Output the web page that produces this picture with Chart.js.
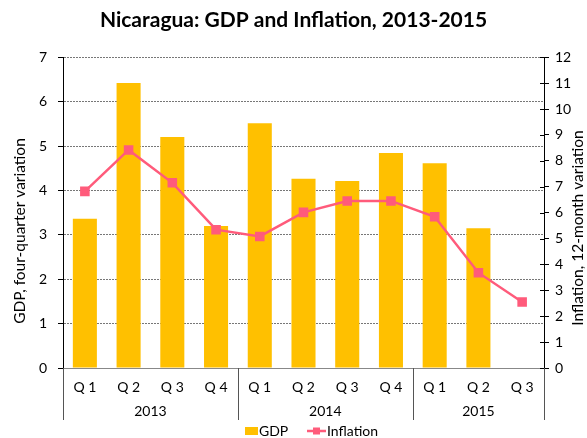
<!DOCTYPE html>
<html>
<head>
<meta charset="utf-8">
<script src="https://cdn.jsdelivr.net/npm/chart.js@4"></script>
<style>
  body { margin: 0; background: #fff; }
  #wrap { width: 587px; height: 438px; }
</style>
</head>
<body>
<div id="wrap"><canvas id="myChart"></canvas></div>
<script>
// data
const quarters = ["Q 1", "Q 2", "Q 3", "Q 4", "Q 1", "Q 2", "Q 3", "Q 4", "Q 1", "Q 2", "Q 3"];
const years = ["2013", "2014", "2015"];
const yearSpans = [4, 4, 3];
const gdp = [3.36, 6.42, 5.2, 3.2, 5.51, 4.26, 4.21, 4.84, 4.61, 3.15, null];
const inflation = [6.82, 8.42, 7.15, 5.34, 5.08, 6.01, 6.45, 6.45, 5.84, 3.68, 2.55];
const gdpTicks = [0, 7];
const inflTicks = [0, 12];

const FONT = "Lato, 'Open Sans', sans-serif";
const BAR = "#FFC000";
const LINE = "#FF5B7B";

// year groups, axis titles, legend
const extras = {
  id: "extras",
  afterDraw(chart) {
    const ctx = chart.ctx;
    const x = chart.scales.x;
    const y1 = chart.scales.y1;
    const area = chart.chartArea;
    ctx.save();

    // separators + year labels
    ctx.strokeStyle = "#555";
    ctx.lineWidth = 1;
    let start = 0;
    const edges = [x.left];
    yearSpans.forEach((n) => {
      const end = start + n;
      const right = end >= quarters.length ? x.right
        : (x.getPixelForValue(end - 1) + x.getPixelForValue(end)) / 2;
      edges.push(right);
      start = end;
    });
    edges.forEach((px) => {
      const xx = Math.round(px) + 0.5;
      ctx.beginPath();
      ctx.moveTo(xx, area.bottom);
      ctx.lineTo(xx, 420);
      ctx.stroke();
    });
    ctx.fillStyle = "#000";
    ctx.font = "14px " + FONT;
    ctx.textAlign = "center";
    ctx.textBaseline = "middle";
    years.forEach((yr, i) => {
      ctx.fillText(yr, (edges[i] + edges[i + 1]) / 2, 411);
    });

    // right axis ticks cross the axis line
    ctx.strokeStyle = "#000";
    y1.ticks.forEach((t) => {
      const yy = Math.round(y1.getPixelForValue(t.value)) + 0.5;
      ctx.beginPath();
      ctx.moveTo(area.right - 4, yy);
      ctx.lineTo(area.right, yy);
      ctx.stroke();
    });

    // axis titles
    ctx.font = "15.5px " + FONT;
    ctx.fillStyle = "#000";
    ctx.save();
    ctx.translate(20, 231);
    ctx.rotate(-Math.PI / 2);
    ctx.fillText("GDP, four-quarter variation", 0, 0);
    ctx.restore();
    ctx.save();
    ctx.translate(578, 228);
    ctx.rotate(-Math.PI / 2);
    ctx.fillText("Inflation, 12-month variation", 0, 0);
    ctx.restore();

    // legend
    ctx.fillStyle = BAR;
    ctx.fillRect(245, 427, 13, 8);
    ctx.fillStyle = "#000";
    ctx.textAlign = "left";
    ctx.font = "14px " + FONT;
    ctx.fillText("GDP", 259, 431);
    ctx.strokeStyle = LINE;
    ctx.lineWidth = 2.5;
    ctx.beginPath();
    ctx.moveTo(307, 431);
    ctx.lineTo(326, 431);
    ctx.stroke();
    ctx.fillStyle = LINE;
    ctx.fillRect(313, 427.5, 7, 7);
    ctx.fillStyle = "#000";
    ctx.fillText("Inflation", 327, 431);
    ctx.restore();
  },
};

new Chart(document.getElementById("myChart"), {
  data: {
    labels: quarters,
    datasets: [
      {
        type: "line",
        label: "Inflation",
        data: inflation,
        yAxisID: "y1",
        borderColor: LINE,
        backgroundColor: LINE,
        borderWidth: 2.5,
        pointStyle: "rect",
        pointRadius: 5,
        tension: 0,
        order: 0,
      },
      {
        type: "bar",
        label: "GDP",
        data: gdp,
        yAxisID: "y",
        backgroundColor: BAR,
        barPercentage: 0.55,
        categoryPercentage: 1,
        order: 1,
      },
    ],
  },
  plugins: [extras],
  options: {
    responsive: true,
    maintainAspectRatio: false,
    animation: false,
    layout: { padding: { top: 0, bottom: 18, left: 0, right: 0 } },
    plugins: {
      legend: { display: false },
      tooltip: { enabled: false },
      title: {
        display: true,
        text: "Nicaragua: GDP and Inflation, 2013-2015",
        color: "#000",
        font: { family: FONT, size: 21, weight: "bold" },
        padding: { top: 8, bottom: 24 },
      },
    },
    scales: {
      x: {
        grid: { display: false },
        border: { color: "#888", width: 1 },
        ticks: { color: "#000", font: { family: FONT, size: 14 }, padding: 3, maxRotation: 0 },
        afterFit: (s) => { s.height = 52; },
      },
      y: {
        position: "left",
        min: gdpTicks[0],
        max: gdpTicks[1],
        ticks: { stepSize: 1, color: "#000", font: { family: FONT, size: 14 }, padding: 11 },
        grid: { color: "#777", tickColor: "#000", tickLength: 5, lineWidth: 1 },
        border: { color: "#000", width: 1, dash: [2, 1] },
        afterFit: (s) => { s.width = 63; },
      },
      y1: {
        position: "right",
        min: inflTicks[0],
        max: inflTicks[1],
        ticks: { stepSize: 1, color: "#000", font: { family: FONT, size: 14 }, padding: 6 },
        grid: { drawOnChartArea: false, tickColor: "#000", tickLength: 5 },
        border: { color: "#000", width: 1 },
        afterFit: (s) => { s.width = 43; },
      },
    },
  },
});
</script>
</body>
</html>
